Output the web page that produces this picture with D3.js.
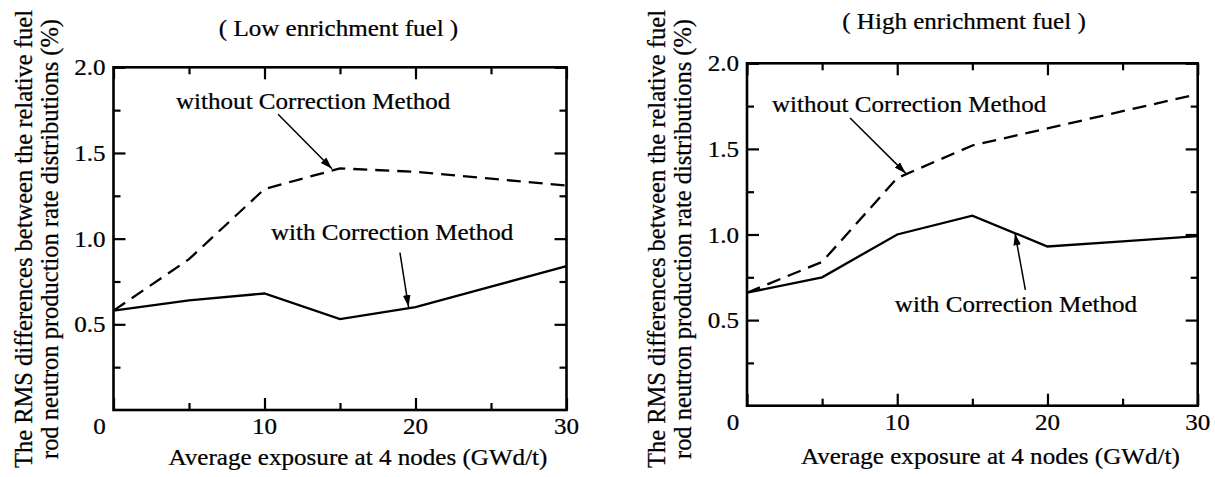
<!DOCTYPE html>
<html>
<head>
<meta charset="utf-8">
<script src="https://cdn.jsdelivr.net/npm/d3@7"></script>
<style>
  body { margin: 0; background: #fff; }
  svg text { font-family: "Liberation Serif", "Times New Roman", serif; fill: #000; stroke: #000; stroke-width: 0.25; }
</style>
</head>
<body>
<div id="chart"></div>
<script>
// values (exposure in GWd/t, RMS difference in %)
const exposure = [0, 5, 10, 15, 20, 25, 30];
const lowWithout = [0.58, 0.88, 1.29, 1.41, 1.39, 1.35, 1.31];
const lowWith = [0.58, 0.64, 0.68, 0.53, 0.60, 0.72, 0.84];
const highWithout = [0.66, 0.84, 1.33, 1.52, 1.62, 1.72, 1.82];
const highWith = [0.66, 0.75, 1.00, 1.11, 0.93, 0.96, 0.99];

const xMajor = [0, 10, 20, 30];
const xMinor = [5, 15, 25];
const yMajor = [0.5, 1.0, 1.5, 2.0];
const yMinor = [0.25, 0.75, 1.25, 1.75];

const titles = ["( Low enrichment fuel )", "( High enrichment fuel )"];
const xLabel = "Average exposure at 4 nodes (GWd/t)";
const yLabelLines = ["The RMS differences between the relative fuel",
                     "rod neutron production rate distributions (%)"];
const labelWithout = "without Correction Method";
const labelWith = "with Correction Method";

// annotation anchors, in data units
const lowNotes = [
  {text: labelWithout, tx: 4.14, ty: 1.755, from: [10.9, 1.726], to: [14.47, 1.408]},
  {text: labelWith, tx: 10.43, ty: 0.993, from: [18.97, 0.918], to: [19.54, 0.601]}
];
const highNotes = [
  {text: labelWithout, tx: 1.66, ty: 1.718, from: [6.86, 1.681], to: [10.57, 1.357]},
  {text: labelWith, tx: 9.84, ty: 0.549, from: [18.53, 0.676], to: [17.84, 1.007]}
];

const W = 1215, H = 477;
const SX = 1.045; // the original figure is stretched sideways a little
const FS = 24;

const svg = d3.select("#chart").append("svg")
  .attr("width", W).attr("height", H);

const defs = svg.append("defs");
defs.append("marker")
  .attr("id", "head")
  .attr("markerUnits", "userSpaceOnUse")
  .attr("viewBox", "-12 -5 14 10")
  .attr("markerWidth", 14).attr("markerHeight", 10)
  .attr("refX", 0).attr("refY", 0)
  .attr("orient", "auto")
  .append("path")
  .attr("d", "M0,0 L-12,-3.8 L-12,3.8 Z")
  .attr("fill", "#000");

function stretched(sel, x, y, size, anchor) {
  return sel.attr("transform", `translate(${x},${y}) scale(${SX},1)`)
    .attr("font-size", size)
    .attr("text-anchor", anchor || "start");
}

function drawPanel(p) {
  const x = d3.scaleLinear().domain([0, 30]).range([p.left, p.left + p.width]);
  const y = d3.scaleLinear().domain([0, 2]).range([p.top + p.height, p.top]);
  const g = svg.append("g");

  // ticks on all four sides, pointing inward
  [[d3.axisBottom(x), p.top + p.height], [d3.axisTop(x), p.top]].forEach(([ax, pos]) => {
    g.append("g").attr("transform", `translate(0,${pos})`)
      .call(ax.tickValues(xMajor).tickSize(-12).tickFormat(""));
    g.append("g").attr("transform", `translate(0,${pos})`)
      .call(ax.tickValues(xMinor).tickSize(-7).tickFormat(""));
  });
  [[d3.axisLeft(y), p.left], [d3.axisRight(y), p.left + p.width]].forEach(([ax, pos]) => {
    g.append("g").attr("transform", `translate(${pos},0)`)
      .call(ax.tickValues(yMajor).tickSize(-12).tickFormat(""));
    g.append("g").attr("transform", `translate(${pos},0)`)
      .call(ax.tickValues(yMinor).tickSize(-7).tickFormat(""));
  });
  g.selectAll(".domain").remove();
  g.selectAll(".tick line").attr("stroke", "#000").attr("stroke-width", 2.2);

  g.append("rect")
    .attr("x", p.left).attr("y", p.top)
    .attr("width", p.width).attr("height", p.height)
    .attr("fill", "none").attr("stroke", "#000").attr("stroke-width", 2.6);

  // tick labels
  xMajor.forEach(v => {
    stretched(g.append("text"), x(v) - (v === 0 ? 14 : 0), p.top + p.height + 24, FS, "middle")
      .text(v);
  });
  yMajor.forEach(v => {
    stretched(g.append("text"), p.left - 8, y(v) + 8, FS, "end")
      .text(d3.format(".1f")(v));
  });

  // lines
  const line = d3.line().x(d => x(d[0])).y(d => y(d[1]));
  g.append("path")
    .datum(exposure.map((e, i) => [e, p.without[i]]))
    .attr("d", line)
    .attr("fill", "none").attr("stroke", "#000")
    .attr("stroke-width", 2.3).attr("stroke-dasharray", "14,8");
  g.append("path")
    .datum(exposure.map((e, i) => [e, p.with[i]]))
    .attr("d", line)
    .attr("fill", "none").attr("stroke", "#000")
    .attr("stroke-width", 2.3);

  // annotations
  p.notes.forEach(n => {
    stretched(g.append("text"), x(n.tx), y(n.ty), FS, "start").text(n.text);
    g.append("line")
      .attr("x1", x(n.from[0])).attr("y1", y(n.from[1]))
      .attr("x2", x(n.to[0])).attr("y2", y(n.to[1]))
      .attr("stroke", "#000").attr("stroke-width", 1.5)
      .attr("marker-end", "url(#head)");
  });

  // title and axis labels
  stretched(g.append("text"), p.titleX, p.titleY, FS, "middle").text(p.title);
  stretched(g.append("text"), p.left + p.width / 2 + 18, p.xLabelY, FS, "middle").text(xLabel);
  yLabelLines.forEach((t, i) => {
    g.append("text")
      .attr("transform", `translate(${p.yLabelX[i]},239) scale(${SX},1) rotate(-90)`)
      .attr("font-size", 24.5)
      .attr("text-anchor", "middle")
      .text(t);
  });
}

drawPanel({
  left: 113.5, top: 67.3, width: 453, height: 342.7,
  without: lowWithout, with: lowWith, notes: lowNotes,
  title: titles[0], titleX: 338.5, titleY: 36, xLabelY: 465, yLabelX: [32, 58]
});
drawPanel({
  left: 747, top: 63.3, width: 450.7, height: 342.4,
  without: highWithout, with: highWith, notes: highNotes,
  title: titles[1], titleX: 964, titleY: 29, xLabelY: 464, yLabelX: [665, 691]
});
</script>
</body>
</html>
